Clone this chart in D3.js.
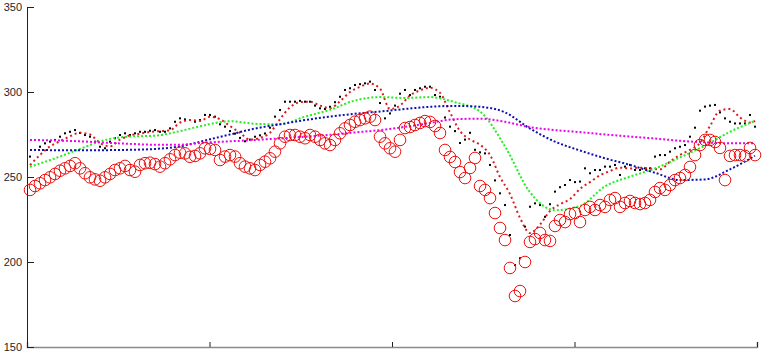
<!DOCTYPE html>
<html>
<head>
<meta charset="utf-8">
<script src="https://cdn.jsdelivr.net/npm/d3@7"></script>
<style>
  html, body { margin: 0; padding: 0; background: #fff; }
  #chart { width: 766px; height: 354px; }
</style>
</head>
<body>
<div id="chart"></div>
<script>
// ── Data ────────────────────────────────────────
// price: one value per step
const price = [
  262, 265.9, 267.8, 269.8, 270.8, 271.8, 273.7, 275.7, 276.6, 277.6,
  275.9, 274.7, 273.7, 270.8, 267.8, 266.9, 270.8, 272.8, 274.7, 275.7,
  274.7, 275.7, 276.6, 276.6, 277.2, 277.6, 276.6, 276.6, 278.6, 282.5,
  284.5, 283.9, 283.5, 282.5, 283.5, 286.5, 286.5, 285.5, 281, 279.6,
  277, 275.5, 273, 271, 272, 273.7, 274.5, 275.6, 279, 285.5,
  289.4, 294.3, 294.3, 294.3, 294.8, 294.3, 294.3, 292, 290.4, 290,
  291.3, 294, 297.2, 301.2, 302.2, 304.1, 304.6, 305.1, 306.1, 301.2,
  293.5, 284.5, 287.4, 292, 299, 301.2, 298.2, 301.2, 302.2, 303.1,
  303.1, 298.2, 297.2, 285, 279.6, 277, 270, 272, 276, 266,
  264.5, 263.9, 257.1, 248, 240.4, 233.5, 215.9, 198.2, 202.2, 220.8,
  232.5, 234.5, 233.5, 226.6, 234, 241.4, 244, 245.3, 248.2, 247,
  247.3, 255.1, 252.2, 254.1, 254.1, 256.1, 256.1, 257.1, 251.2, 256.1,
  257.1, 254.1, 254.1, 255.1, 255.1, 262, 262.9, 262.9, 264.9, 266.9,
  267.8, 268.8, 273.7, 279, 289, 291.4, 292, 292.4, 288, 284.5,
  282.5, 281.5, 281.5, 281.5, 286.5, 279.6
];

// lower series drawn as open circles, one value per step
const lowSeries = [
  242.4, 244.7, 246.3, 248.2, 249.8, 251.8, 253.7, 255.1, 256.5, 258.1,
  255.1, 252.2, 249.8, 248.6, 247.8, 249.8, 251.8, 254.1, 255.1, 256.5,
  254.1, 253.1, 257.1, 258.1, 258.4, 257.6, 256.1, 258.1, 260.4, 262.9,
  264.3, 263.9, 261.9, 262.4, 263.9, 266.9, 266.5, 265.9, 260, 262,
  262.9, 262, 258.1, 256.1, 255.1, 254.1, 257.1, 259, 261, 264.9,
  269.8, 273.7, 274.7, 274.7, 273.7, 272.8, 274.7, 273.7, 271.8, 269.8,
  268.8, 271.8, 275.7, 278.6, 280.6, 282.5, 283.5, 284.5, 285.5, 283.5,
  273.7, 269.8, 266.9, 264.9, 271.8, 278.8, 279.4, 280.6, 281.8, 282.9,
  282.4, 280, 275.9, 265.9, 261.8, 258.8, 252.9, 249.4, 255.3, 261.2,
  244.7, 242.4, 237.6, 228.8, 220, 212.9, 196.5, 180, 182.9, 200,
  211.8, 213.5, 217.1, 212.9, 212.4, 221.2, 224.7, 223.5, 228.2, 228.8,
  223.5, 230.6, 232.4, 230.6, 233.5, 232.4, 236.5, 237.6, 232.4, 234.7,
  235.9, 234.7, 234.1, 234.7, 236.5, 241.2, 243.5, 242.4, 245.3, 248.2,
  249.4, 251.2, 255.9, 262.9, 268.8, 271.8, 271.8, 270.6, 267.1, 248.2,
  262.4, 262.9, 262.9, 262.4, 267.1, 262.9
];

// short average (red dotted), every 2nd step
const shortIdx = [
  0, 2, 4, 6, 8, 10, 12, 14, 16, 18, 20, 22, 24, 26, 28, 30, 32, 34, 36, 38,
  40, 42, 44, 46, 48, 50, 52, 54, 56, 58, 60, 62, 64, 66, 68, 70, 72, 74, 76, 78,
  80, 82, 84, 86, 88, 90, 92, 94, 96, 98, 100, 102, 104, 106, 108, 110, 112, 114, 116, 118,
  120, 122, 124, 126, 128, 130, 132, 134, 136, 138, 140, 142, 144, 145
];
const shortAvg = [
  257, 263, 268, 271, 274, 276, 275, 270, 268, 272,
  274.5, 275.5, 276.5, 277, 277.5, 282, 283.5, 283, 285.5, 284,
  280, 276, 272, 273, 276, 284, 291, 294, 294.3, 292,
  290.5, 294.5, 300, 303, 305, 302, 290, 292, 298, 301,
  302.5, 299.5, 288, 277, 272, 269, 263, 250, 240, 226,
  217, 222, 230, 234, 237, 243, 247, 251, 253.5, 255.5,
  255, 255.5, 255, 254.5, 259, 263, 266, 270, 280, 289,
  290, 285, 282, 283
];

// longer averages, every 5th step
const longIdx = [
  0, 5, 10, 15, 20, 25, 30, 35, 40, 45, 50, 55, 60, 65, 70,
  75, 80, 85, 90, 95, 100, 105, 110, 115, 120, 125, 130, 135, 140, 145
];
const avgGreen = [
  256, 261, 266.5, 271.8, 273.8, 274.3, 277, 280.5, 282.8, 281.3,
  281, 285.5, 289.5, 295, 297, 296.5, 297, 294, 288.5, 268,
  241, 230.5, 233, 244.5, 250.2, 255, 261.5, 268.5, 276.6, 283
];
const avgBlue = [
  265.9, 265.8, 265.8, 265.8, 266, 266.5, 268, 271.5, 275, 278.5,
  281, 283.5, 285.5, 287.2, 288.5, 290, 291.3, 291.8, 291.3, 288,
  278.5, 270.8, 265.6, 261, 257.1, 252.5, 248.2, 248.6, 254.5, 262.5
];
const avgMagenta = [
  271.8, 271.5, 271, 270.2, 269.5, 269, 269, 270.2, 271, 271.8,
  272.7, 273.7, 274.8, 276.2, 277.6, 279.5, 281.8, 284, 284.3, 282.5,
  279.3, 277.6, 276.4, 275, 273.8, 272.6, 271.3, 270.4, 269.8, 269.8
];

const yTicks = [150, 200, 250, 300, 350];

// ── Layout ──────────────────────────────────────
const W = 766, H = 354;
const margin = { top: 7, right: 9, bottom: 7, left: 27 };
const width  = W - margin.left - margin.right;
const height = H - margin.top - margin.bottom;

const svg = d3.select("#chart").append("svg")
  .attr("width", W).attr("height", H);
const g = svg.append("g")
  .attr("transform", `translate(${margin.left},${margin.top})`);

const x0 = -0.6, x1 = price.length - 1 + 0.4;
const xScale = d3.scaleLinear().domain([x0, x1]).range([0, width]);
const yScale = d3.scaleLinear().domain([150, 350]).range([height, 0]);

// ── Axes ────────────────────────────────────────
const xAxis = g.append("g").attr("transform", `translate(0,${height})`)
  .call(d3.axisTop(xScale)
    .tickValues(d3.range(5).map(k => x0 + k * (x1 - x0) / 4))
    .tickSize(5).tickFormat(""));
xAxis.select(".domain").attr("stroke", "#8a8a8a").attr("stroke-width", 1.5);
xAxis.selectAll(".tick line").attr("stroke", "#222");

const yAxis = g.append("g")
  .call(d3.axisRight(yScale).tickValues(yTicks).tickSize(7));
yAxis.select(".domain").attr("stroke", "#222");
yAxis.selectAll(".tick line").attr("stroke", "#222");
yAxis.selectAll("text")
  .attr("x", -5).attr("text-anchor", "end")
  .attr("font-family", "'Liberation Sans', Arial, sans-serif")
  .attr("font-size", "11px").attr("fill", "#262626");

// ── Dotted lines ────────────────────────────────
function dotted(idx, vals, color, w, dash) {
  const line = d3.line()
    .x((d, i) => xScale(idx[i]))
    .y(d => yScale(d))
    .curve(d3.curveMonotoneX);
  g.append("path").datum(vals)
    .attr("d", line)
    .attr("fill", "none")
    .attr("stroke", color)
    .attr("stroke-width", w)
    .attr("stroke-dasharray", dash);
}

// price markers
g.selectAll(".px").data(price).join("rect")
  .attr("class", "px")
  .attr("x", (d, i) => xScale(i) - 1)
  .attr("y", d => yScale(d) - 1)
  .attr("width", 2).attr("height", 2)
  .attr("fill", "#000");

dotted(shortIdx, shortAvg, "#dd1a1a", 2, "2,3");
dotted(longIdx, avgGreen, "#22ee22", 2, "2,2");
dotted(longIdx, avgBlue, "#1010b0", 2, "2,2");
dotted(longIdx, avgMagenta, "#ee00ee", 2, "2,2");

// lower series circles
g.selectAll(".lo").data(lowSeries).join("circle")
  .attr("class", "lo")
  .attr("cx", (d, i) => xScale(i))
  .attr("cy", d => yScale(d))
  .attr("r", 5.8)
  .attr("fill", "none")
  .attr("stroke", "#ee1111")
  .attr("stroke-width", 1);
</script>
</body>
</html>
